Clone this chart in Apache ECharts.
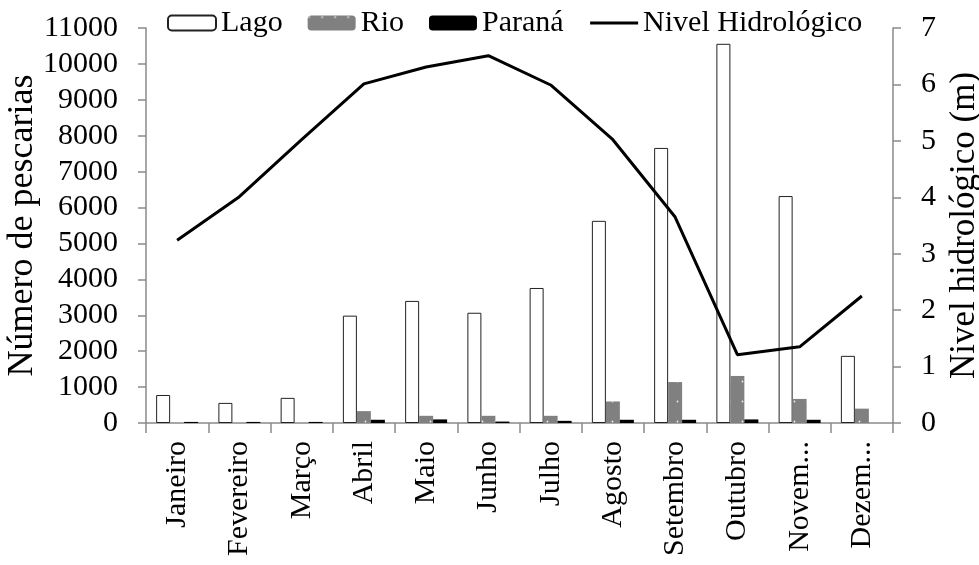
<!DOCTYPE html>
<html>
<head>
<meta charset="utf-8">
<title>Pescarias</title>
<script src="https://cdn.jsdelivr.net/npm/echarts@6/dist/echarts.min.js"></script>
<style>
  html, body { margin: 0; padding: 0; background: #fff; }
  #main { width: 979px; height: 565px; }
</style>
</head>
<body>
<div id="main"></div>
<script>
// dados
var meses = ['Janeiro', 'Fevereiro', 'Março', 'Abril', 'Maio', 'Junho', 'Julho',
  'Agosto', 'Setembro', 'Outubro', 'Novembro', 'Dezembro'];
var lago = [780, 560, 700, 2990, 3400, 3070, 3760, 5630, 7660, 10560, 6320, 1870];
var rio = [0, 0, 0, 330, 200, 200, 200, 600, 1140, 1310, 670, 400];
var parana = [30, 30, 30, 90, 100, 40, 60, 90, 90, 100, 90, 0];
var nivel = [3.24, 4.01, 5.02, 6.01, 6.31, 6.51, 5.99, 5.02, 3.65, 1.21, 1.35, 2.25];

var fonte = 'Liberation Serif';
var cinzaEixo = '#8a8a8a';

var myChart = echarts.init(document.getElementById('main'));

var option = {
  animation: false,
  textStyle: { fontFamily: fonte, color: '#000' },
  legend: {
    left: 162,
    top: 3,
    itemWidth: 48,
    itemHeight: 15,
    itemGap: 25,
    textStyle: { fontFamily: fonte, fontSize: 30, color: '#000' },
    data: [
      { name: 'Lago' },
      { name: 'Rio' },
      { name: 'Paraná' },
      {
        name: 'Nivel Hidrológico',
        itemStyle: { color: 'rgba(0,0,0,0)', borderWidth: 0 },
        lineStyle: { color: '#000', width: 3 }
      }
    ]
  },
  grid: { left: 146, right: 86, top: 28, bottom: 142, containLabel: false, outerBoundsMode: 'none' },
  xAxis: {
    type: 'category',
    data: meses,
    axisLine: { lineStyle: { color: cinzaEixo, width: 1.5 } },
    axisTick: { show: true, length: 10, lineStyle: { color: cinzaEixo, width: 1.5 } },
    axisLabel: {
      rotate: 90,
      interval: 0,
      margin: 18,
      fontFamily: fonte,
      fontSize: 30,
      color: '#000',
      width: 118,
      overflow: 'truncate',
      ellipsis: '...'
    }
  },
  yAxis: [
    {
      type: 'value',
      min: 0,
      max: 11000,
      interval: 1000,
      name: 'Número de pescarias',
      nameLocation: 'middle',
      nameRotate: 90,
      nameGap: 105,
      nameMoveOverlap: false,
      nameTextStyle: { fontFamily: fonte, fontSize: 36, color: '#000' },
      axisLine: { show: true, lineStyle: { color: cinzaEixo, width: 1.5 } },
      axisTick: { show: true, length: 8, lineStyle: { color: cinzaEixo, width: 1.5 } },
      axisLabel: {
        fontFamily: fonte, fontSize: 30, color: '#000', margin: 28,
        formatter: function (v) { return String(v); }
      },
      splitLine: { show: false }
    },
    {
      type: 'value',
      min: 0,
      max: 7,
      interval: 1,
      position: 'right',
      name: 'Nivel hidrológico (m)',
      nameLocation: 'middle',
      nameRotate: 90,
      nameGap: 54,
      nameMoveOverlap: false,
      nameTextStyle: { fontFamily: fonte, fontSize: 35, color: '#000' },
      axisLine: { show: true, lineStyle: { color: cinzaEixo, width: 1.5 } },
      axisTick: { show: true, length: 8, lineStyle: { color: cinzaEixo, width: 1.5 } },
      axisLabel: { fontFamily: fonte, fontSize: 30, color: '#000', margin: 28 },
      splitLine: { show: false }
    }
  ],
  series: [
    {
      name: 'Lago',
      type: 'bar',
      data: lago,
      barWidth: 14,
      barGap: '0%',
      itemStyle: { color: '#fff', borderColor: '#222', borderWidth: 1 }
    },
    {
      name: 'Rio',
      type: 'bar',
      data: rio,
      barWidth: 14,
      barGap: '0%',
      itemStyle: {
        color: '#808080',
        decal: {
          symbol: 'circle',
          symbolSize: 0.6,
          color: 'rgba(255,255,255,0.85)',
          dashArrayX: [3, 10],
          dashArrayY: [3, 17],
          rotation: 0
        }
      }
    },
    {
      name: 'Paraná',
      type: 'bar',
      data: parana,
      barWidth: 14,
      barGap: '0%',
      itemStyle: { color: '#000' }
    },
    {
      name: 'Nivel Hidrológico',
      type: 'line',
      yAxisIndex: 1,
      data: nivel,
      symbol: 'none',
      showSymbol: false,
      lineStyle: { color: '#000', width: 3 },
      itemStyle: { color: '#000' }
    }
  ]
};

myChart.setOption(option);
</script>
</body>
</html>
